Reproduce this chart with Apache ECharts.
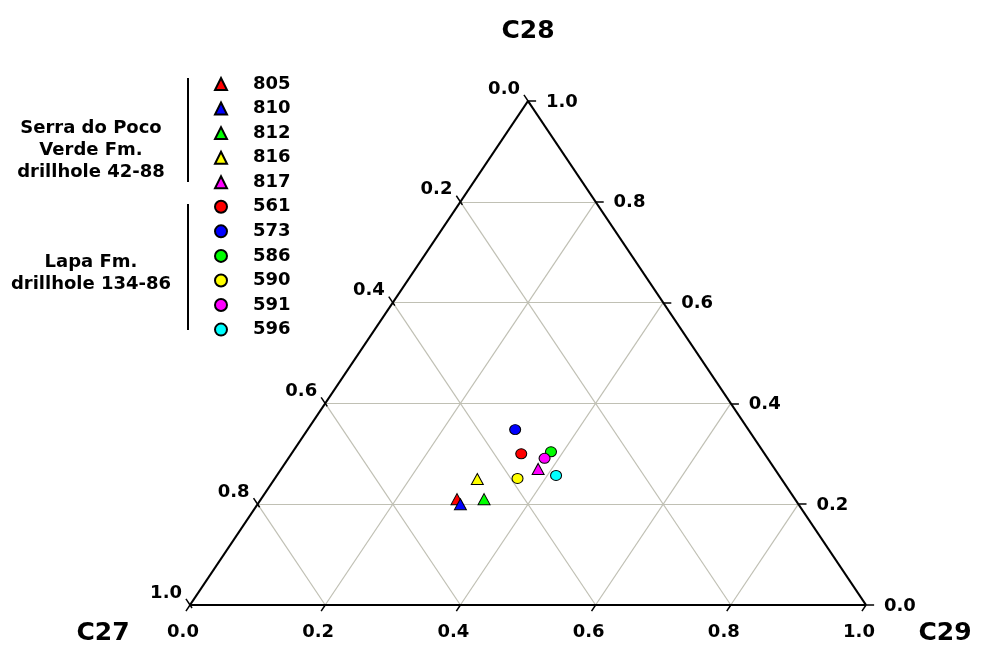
<!DOCTYPE html>
<html>
<head>
<meta charset="utf-8">
<script src="https://cdn.jsdelivr.net/npm/echarts@6/dist/echarts.min.js"></script>
<style>
  html, body { margin: 0; padding: 0; background: #fff; }
  #chart { width: 981px; height: 646px; }
</style>
</head>
<body>
<div id="chart"></div>
<script>
// Sterane composition (C27 / C28 / C29 fractions) per sample
const samples = ['805', '810', '812', '816', '817', '561', '573', '586', '590', '591', '596'];
const c27 = [0.500, 0.500, 0.460, 0.450, 0.350, 0.360, 0.345, 0.314, 0.390, 0.330, 0.330];
const c28 = [0.210, 0.200, 0.210, 0.250, 0.270, 0.300, 0.348, 0.304, 0.251, 0.291, 0.257];
const c29 = [0.290, 0.300, 0.330, 0.300, 0.380, 0.340, 0.307, 0.382, 0.359, 0.379, 0.413];
// Sample group: 0 = Serra do Poco Verde Fm. (triangles), 1 = Lapa Fm. (circles)
const sampleGroup = [0, 0, 0, 0, 0, 1, 1, 1, 1, 1, 1];

const ternaryTicks = [0, 0.2, 0.4, 0.6, 0.8, 1.0];
const tickLabels = ['0.0', '0.2', '0.4', '0.6', '0.8', '1.0'];
const endMembers = ['C27', 'C28', 'C29'];
const groupLabels = [['Serra do Poco', 'Verde Fm.', 'drillhole 42-88'], ['Lapa Fm.', 'drillhole 134-86']];

// Styling
const sampleColors = ['#ff0000', '#0000ff', '#00ff00', '#ffff00', '#ff00ff',
                      '#ff0000', '#0000ff', '#00ff00', '#ffff00', '#ff00ff', '#00ffff'];
const groupSymbols = ['triangle', 'circle'];
const groupSymbolSize = [[12, 11], [11, 10]];
const FONT = 'DejaVu Sans';

// Ternary (a=C27, b=C28, c=C29) -> cartesian plot coordinates; C27 at origin, C29 at (1,0), C28 at apex
function tern(a, b, c) {
  const s = a + b + c;
  return [(c + b / 2) / s, b / s];
}

// Internal grid lines at the interior tick values
const gridSegs = [];
ternaryTicks.filter(t => t > 0 && t < 1).forEach(t => {
  gridSegs.push({ coords: [tern(1 - t, t, 0), tern(0, t, 1 - t)] });   // constant C28
  gridSegs.push({ coords: [tern(1 - t, 0, t), tern(0, 1 - t, t)] });   // constant C29
  gridSegs.push({ coords: [tern(t, 0, 1 - t), tern(t, 1 - t, 0)] });   // constant C27
});

// Outer triangle
const frameSegs = [
  { coords: [tern(1, 0, 0), tern(0, 0, 1)] },
  { coords: [tern(0, 0, 1), tern(0, 1, 0)] },
  { coords: [tern(0, 1, 0), tern(1, 0, 0)] }
];

// Tick marks: short extensions of the grid directions beyond each edge
const ext = 0.012;
const tickSegs = [];
ternaryTicks.forEach(t => {
  // bottom edge (C29)
  tickSegs.push({ coords: [[t, 0], [t - ext / 2, -ext]] });
  // left edge (C27)
  const pl = tern(t, 1 - t, 0);
  tickSegs.push({ coords: [[pl[0] + ext / 4, pl[1] - ext / 2], [pl[0] - ext / 2, pl[1] + ext]] });
  // right edge (C28)
  const pr = tern(0, t, 1 - t);
  tickSegs.push({ coords: [pr, [pr[0] + ext, pr[1]]] });
});

const bottomLabelData = ternaryTicks.map((t, i) => [t, 0, tickLabels[i]]);
const leftLabelData = ternaryTicks.map((t, i) => tern(t, 1 - t, 0).concat(tickLabels[i]));
const rightLabelData = ternaryTicks.map((t, i) => tern(0, t, 1 - t).concat(tickLabels[i]));

const labelFont = { fontFamily: FONT, fontWeight: 'bold', fontSize: 18, color: '#000' };

function labelSeries(data, position, align) {
  return {
    type: 'scatter',
    data: data,
    symbolSize: 0,
    silent: true,
    clip: false,
    z: 5,
    itemStyle: { opacity: 1 },
    label: Object.assign({
      show: true,
      position: position,
      align: align,
      verticalAlign: 'middle',
      formatter: p => p.data[2]
    }, labelFont)
  };
}

const sampleSeries = samples.map((name, i) => {
  const g = sampleGroup[i];
  return {
    name: name,
    type: 'scatter',
    symbol: groupSymbols[g],
    symbolSize: groupSymbolSize[g],
    clip: false,
    z: 10,
    itemStyle: { color: sampleColors[i], borderColor: '#000', borderWidth: 1, opacity: 1 },
    data: [tern(c27[i], c28[i], c29[i])]
  };
});

const chart = echarts.init(document.getElementById('chart'), null, { renderer: 'canvas' });

const graphics = [];
// Group captions beside the legend
const captionCenters = [[128, 150, 172], [262, 284]];
groupLabels.forEach((lines, g) => {
  lines.forEach((txt, k) => {
    graphics.push({
      type: 'text', x: 91, y: captionCenters[g][k],
      style: { text: txt, fontFamily: FONT, fontWeight: 'bold', fontSize: 18, fill: '#000',
               textAlign: 'center', textVerticalAlign: 'middle' }
    });
  });
});
// Bracket bars separating the two groups
graphics.push({ type: 'line', shape: { x1: 188, y1: 78, x2: 188, y2: 182 }, style: { stroke: '#000', lineWidth: 2 } });
graphics.push({ type: 'line', shape: { x1: 188, y1: 204, x2: 188, y2: 330 }, style: { stroke: '#000', lineWidth: 2 } });
// End-member names at the vertices
const vertexTitles = [[103, 633], [528, 31], [945, 633]];
endMembers.forEach((nm, i) => {
  graphics.push({
    type: 'text', x: vertexTitles[i][0], y: vertexTitles[i][1],
    style: { text: nm, fontFamily: FONT, fontWeight: 'bold', fontSize: 25, fill: '#000',
             textAlign: 'center', textVerticalAlign: 'middle' }
  });
});

chart.setOption({
  backgroundColor: '#ffffff',
  animation: false,
  grid: { left: 190, top: 101, width: 676, height: 504 },
  xAxis: { type: 'value', min: 0, max: 1, show: false },
  yAxis: { type: 'value', min: 0, max: 1, show: false },
  legend: {
    orient: 'vertical',
    left: 209,
    top: 70,
    itemWidth: 12,
    itemHeight: 12,
    itemGap: 6.56,
    selectedMode: false,
    data: samples,
    textStyle: { fontFamily: FONT, fontWeight: 'bold', fontSize: 18, color: '#000',
                 lineHeight: 18, padding: [0, 0, 0, 21] }
  },
  graphic: graphics,
  series: [
    {
      type: 'lines', coordinateSystem: 'cartesian2d', silent: true, clip: false, z: 1,
      lineStyle: { color: '#c0c0b4', width: 1.2, opacity: 1 },
      data: gridSegs
    },
    {
      type: 'lines', coordinateSystem: 'cartesian2d', silent: true, clip: false, z: 3,
      lineStyle: { color: '#000', width: 2.2, opacity: 1 },
      data: frameSegs
    },
    {
      type: 'lines', coordinateSystem: 'cartesian2d', silent: true, clip: false, z: 3,
      lineStyle: { color: '#000', width: 1.5, opacity: 1 },
      data: tickSegs
    },
    labelSeries(bottomLabelData, [-7, 27], 'center'),
    labelSeries(leftLabelData, [-8, -12], 'right'),
    labelSeries(rightLabelData, [18, 1], 'left')
  ].concat(sampleSeries)
});
</script>
</body>
</html>
